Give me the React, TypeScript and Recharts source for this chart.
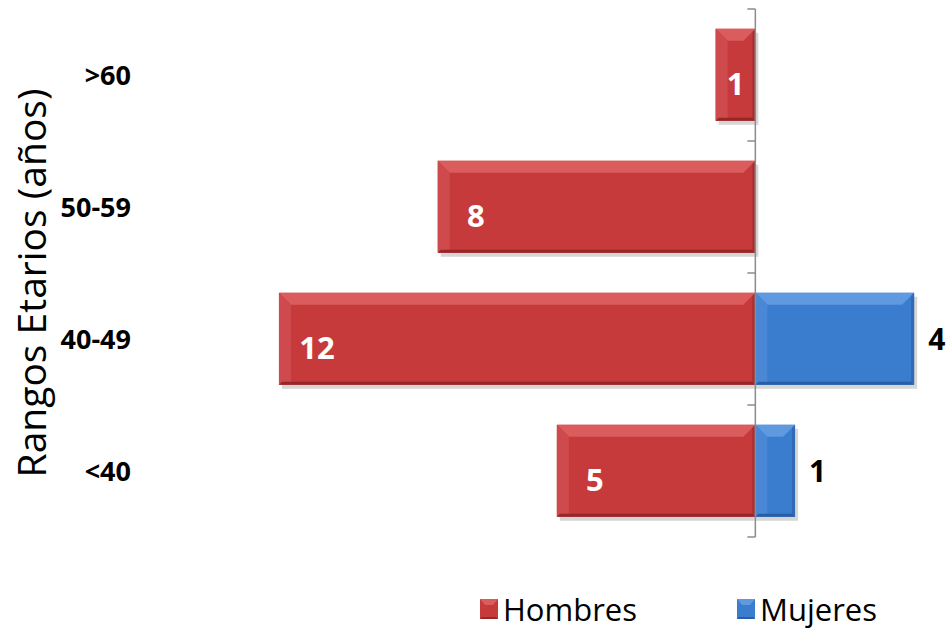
import React from 'react';
import { BarChart, Bar, XAxis, YAxis, ReferenceLine, LabelList, Legend } from 'recharts';

const rangos = ['>60', '50-59', '40-49', '<40'];
const hombres = [1, 8, 12, 5];
const mujeres = [0, 0, 4, 1];

const RED = { face: '#c63a3c', top: '#da5c5d', side: '#cf4a4c', dark: '#962628' };
const BLUE = { face: '#3a7cce', top: '#5f99df', side: '#4a88d6', dark: '#2a5ea4' };

const data = rangos.map((r, i) => ({
  rango: r,
  hombres: -hombres[i],
  mujeres: mujeres[i],
  hLabel: hombres[i],
}));

const box = (p: any) => {
  const vb = p.viewBox && p.viewBox.width !== undefined ? p.viewBox : p;
  const x = Number(vb.x), w = Number(vb.width);
  const y = Number(vb.y), h = Number(vb.height);
  const left = w < 0 ? x + w : x;
  const top = h < 0 ? y + h : y;
  return { left, top, w: Math.abs(w), h: Math.abs(h) };
};

const BevelBar = (props: any) => {
  const { pal } = props;
  const { left, top, w, h } = box(props);
  if (!w || !h) return null;
  const b = Math.min(12, w / 3, h / 4);
  const r = left + w, btm = top + h;
  return (
    <g>
      <rect x={left + 3} y={top + 4} width={w} height={h} fill="rgba(0,0,0,0.16)" />
      <rect x={left} y={top} width={w} height={h} fill={pal.face} />
      <polygon points={`${left},${top} ${r},${top} ${r - b},${top + b} ${left + b},${top + b}`} fill={pal.top} />
      <polygon points={`${left},${top} ${left + b},${top + b} ${left + b},${btm - 3} ${left},${btm}`} fill={pal.side} />
      <polygon points={`${left},${btm} ${left + 3},${btm - 3} ${r - 3},${btm - 3} ${r},${btm}`} fill={pal.dark} />
      <polygon points={`${r},${top} ${r},${btm} ${r - 3},${btm - 3} ${r - 3},${top + 3}`} fill={pal.dark} opacity={0.6} />
    </g>
  );
};

const AxisWithTicks = (props: any) => {
  const { x1, y1, y2 } = props;
  const n = rangos.length;
  const marks = [];
  for (let k = 0; k <= n; k++) {
    const yy = y1 + ((y2 - y1) * k) / n;
    marks.push(<line key={k} x1={x1 - 8} x2={x1} y1={yy} y2={yy} stroke="#8c8c8c" strokeWidth={1.5} />);
  }
  return (
    <g>
      <line x1={x1} x2={x1} y1={y1} y2={y2} stroke="#8c8c8c" strokeWidth={1.5} />
      {marks}
    </g>
  );
};

const HombresLabel = (props: any) => {
  const { left, top, w, h } = box(props);
  if (!props.value) return null;
  const cx = left + Math.min(38, w / 2);
  return (
    <text x={cx} y={top + h / 2 + 8} textAnchor="middle" dominantBaseline="central"
      fill="#fff" fontSize={31} fontWeight="bold">
      {props.value}
    </text>
  );
};

const MujeresLabel = (props: any) => {
  const { left, top, w, h } = box(props);
  if (!props.value) return null;
  return (
    <text x={left + w + 14} y={top + h / 2} textAnchor="start" dominantBaseline="central"
      fill="#000" fontSize={30} fontWeight="bold">
      {props.value}
    </text>
  );
};

const LegendBox = () => {
  const items = [
    { name: 'Hombres', pal: RED },
    { name: 'Mujeres', pal: BLUE },
  ];
  return (
    <div style={{ display: 'flex', gap: 100, alignItems: 'center', fontFamily: 'Open Sans', fontSize: 31, color: '#000' }}>
      {items.map((it) => (
        <div key={it.name} style={{ display: 'flex', alignItems: 'center' }}>
          <svg width={18} height={20} style={{ marginRight: 5 }}>
            <rect x={0} y={0} width={18} height={20} fill={it.pal.face} />
            <polygon points="0,0 18,0 13,6 5,6" fill={it.pal.top} />
            <polygon points="0,20 18,20 16,18 2,18" fill={it.pal.dark} />
          </svg>
          <span>{it.name}</span>
        </div>
      ))}
    </div>
  );
};

const TitleLabel = (props: any) => {
  const vb = props.viewBox || {};
  const cx = 46;
  const cy = (vb.y ?? 9) + (vb.height ?? 528) / 2 + 10;
  return (
    <text x={cx} y={cy} transform={`rotate(-90, ${cx}, ${cy})`} textAnchor="middle"
      fill="#000" fontSize={39} fontFamily="Open Sans">
      Rangos Etarios (años)
    </text>
  );
};

export default function App() {
  return (
    <div style={{ position: 'absolute', left: 0, top: 0, background: '#fff' }}>
      <BarChart
        width={952}
        height={638}
        data={data}
        layout="vertical"
        stackOffset="sign"
        barCategoryGap="15%"
        margin={{ top: 9, right: 18, left: 0, bottom: 101 }}
        style={{ fontFamily: 'Open Sans' }}
      >
        <XAxis type="number" domain={[-15.5, 4.5]} allowDataOverflow hide />
        <YAxis
          type="category"
          dataKey="rango"
          width={140}
          axisLine={false}
          tickLine={false}
          tickSize={0}
          tickMargin={9}
          tick={{ fill: '#000', fontSize: 27, fontWeight: 'bold' }}
          label={{ content: <TitleLabel /> }}
        />
        <Bar dataKey="hombres" name="Hombres" stackId="a" fill={RED.face} isAnimationActive={false}
          shape={(p: any) => <BevelBar {...p} pal={RED} />}>
          <LabelList dataKey="hLabel" content={<HombresLabel />} />
        </Bar>
        <Bar dataKey="mujeres" name="Mujeres" stackId="a" fill={BLUE.face} isAnimationActive={false}
          shape={(p: any) => <BevelBar {...p} pal={BLUE} />}>
          <LabelList dataKey="mujeres" content={<MujeresLabel />} />
        </Bar>
        <ReferenceLine x={0} shape={(p: any) => <AxisWithTicks {...p} />} />
        <Legend
          layout="horizontal"
          verticalAlign="middle"
          align="center"
          content={<LegendBox />}
          wrapperStyle={{ top: 588, left: 480, width: 460 }}
        />
      </BarChart>
    </div>
  );
}
